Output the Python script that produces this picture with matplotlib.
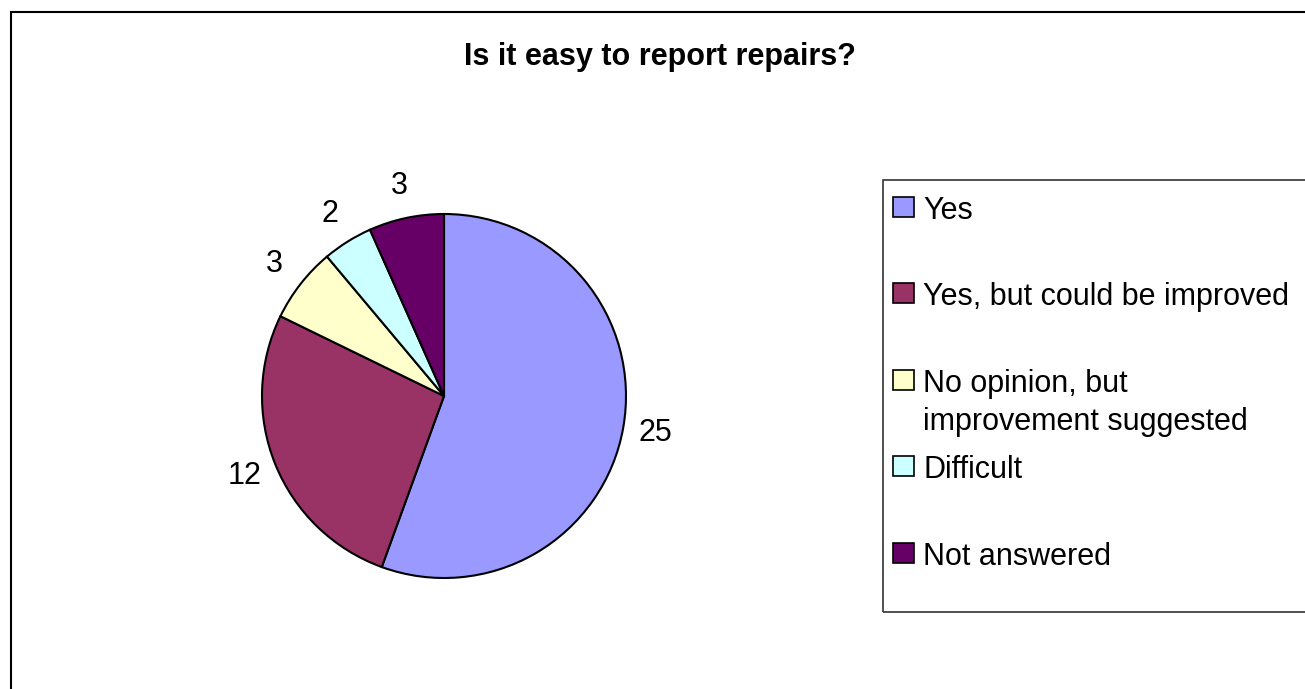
import matplotlib.pyplot as plt
from matplotlib.patches import Rectangle

plt.rcParams['font.family'] = ['Liberation Sans', 'DejaVu Sans']

# survey answers
labels = ['Yes', 'Yes, but could be improved', 'No opinion, but\nimprovement suggested',
          'Difficult', 'Not answered']
counts = [25, 12, 3, 2, 3]
colors = ['#9999FF', '#993366', '#FFFFCC', '#CCFFFF', '#660066']

W, H = 1305, 689
fig = plt.figure(figsize=(W / 100, H / 100), dpi=100)
ax = fig.add_axes([0, 0, 1, 1])

# pie drawn in pixel units, y measured from the bottom
cx, cy, r = 444, H - 396, 182
ax.pie(counts, labels=[str(c) for c in counts], colors=colors,
       startangle=90, counterclock=False, center=(cx, cy), radius=r,
       labeldistance=1.18,
       textprops=dict(ha='center', va='center', fontsize=22),
       wedgeprops=dict(edgecolor='black', linewidth=1.5))

ax.set_xlim(0, W)
ax.set_ylim(0, H)
ax.set_aspect('equal')
ax.axis('off')

ax.text(660, H - 65, 'Is it easy to report repairs?', ha='center', va='baseline',
        fontsize=22, fontweight='bold')

# outer chart border
ax.add_patch(Rectangle((10.5, -20), W + 20, H - 12 + 20, fill=False,
                       edgecolor='black', linewidth=1.5, clip_on=False))

# legend box, one slot per entry
box_top, box_bot, box_left = 180, 612, 883
ax.add_patch(Rectangle((box_left, H - box_bot), W, box_bot - box_top, fill=False,
                       edgecolor='#333333', linewidth=1.2))
slot = (box_bot - box_top) / len(labels)
for i, (lab, col) in enumerate(zip(labels, colors)):
    yc = box_top + i * slot + 27
    ax.add_patch(Rectangle((893, H - yc - 10), 21, 20, facecolor=col,
                           edgecolor='black', linewidth=1.2))
    ax.text(923, H - yc + 11, lab, ha='left', va='top', fontsize=22,
            linespacing=1.35)

fig.savefig('out.png', dpi=100)
